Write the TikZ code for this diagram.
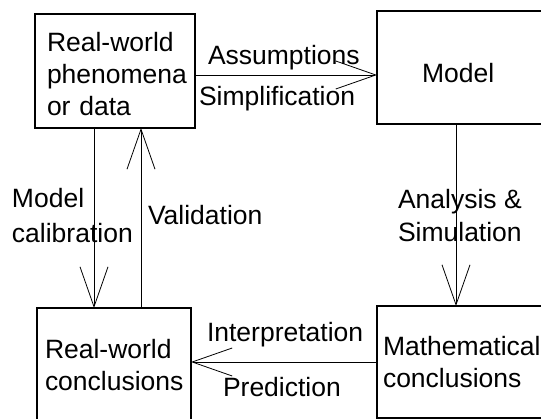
\documentclass[tikz,border=0pt]{standalone}
\usepackage{fontspec}
\setmainfont{Liberation Sans}
\usetikzlibrary{arrows.meta}
\begin{document}
\begin{tikzpicture}[x=1pt, y=-1pt, inner sep=0pt, outer sep=0pt,
  font=\fontsize{26.5}{32}\selectfont,
  stagebox/.style={draw, line width=2.6pt, rectangle, align=left},
  flow/.style={line width=0.8pt, -{Straight Barb[length=40pt,width=28pt]}},
  tag/.style={anchor=base west}]
\useasboundingbox (0,0) rectangle (541,419);
% the four stages
\node[stagebox, minimum width=160, minimum height=114, text width=136, text height=25pt] (phen) at (115,71) {Real-world\\phenomena\\or data};
\node[stagebox, minimum width=172, minimum height=113, text width=82, text height=31pt] (model) at (463,67.5) {Model};
\node[stagebox, minimum width=154, minimum height=114, text width=138] (real) at (114,365) {Real-world\\conclusions};
\node[stagebox, minimum width=172, minimum height=112, text width=160] (math) at (463,362) {Mathematical\\conclusions};
% connectors
\draw[flow] ([yshift=-4pt]phen.east) -- ([yshift=-4pt]phen.east -| model.west);
\draw[flow] ([xshift=-21pt]phen.south) -- ([xshift=-21pt]phen.south |- real.north);
\draw[flow] ([xshift=26pt]phen.south |- real.north) -- ([xshift=26pt]phen.south);
\draw[flow] ([xshift=-7pt]model.south) -- ([xshift=-7pt]model.south |- math.north);
\draw[flow] (math.west) -- (math.west -| real.east);
% labels
\node[tag] (assum) at (208,65) {Assumptions};
\node[tag] (simpl) at (199,106) {Simplification};
\node[tag] (calib1) at (12,208) {Model};
\node[tag] (calib2) at (12,243) {calibration};
\node[tag] (valid) at (148,225) {Validation};
\node[tag] (anal1) at (398,209) {Analysis \&};
\node[tag] (anal2) at (398,242) {Simulation};
\node[tag] (interp) at (207,342) {Interpretation};
\node[tag] (pred) at (223,397) {Prediction};
\end{tikzpicture}
\end{document}
